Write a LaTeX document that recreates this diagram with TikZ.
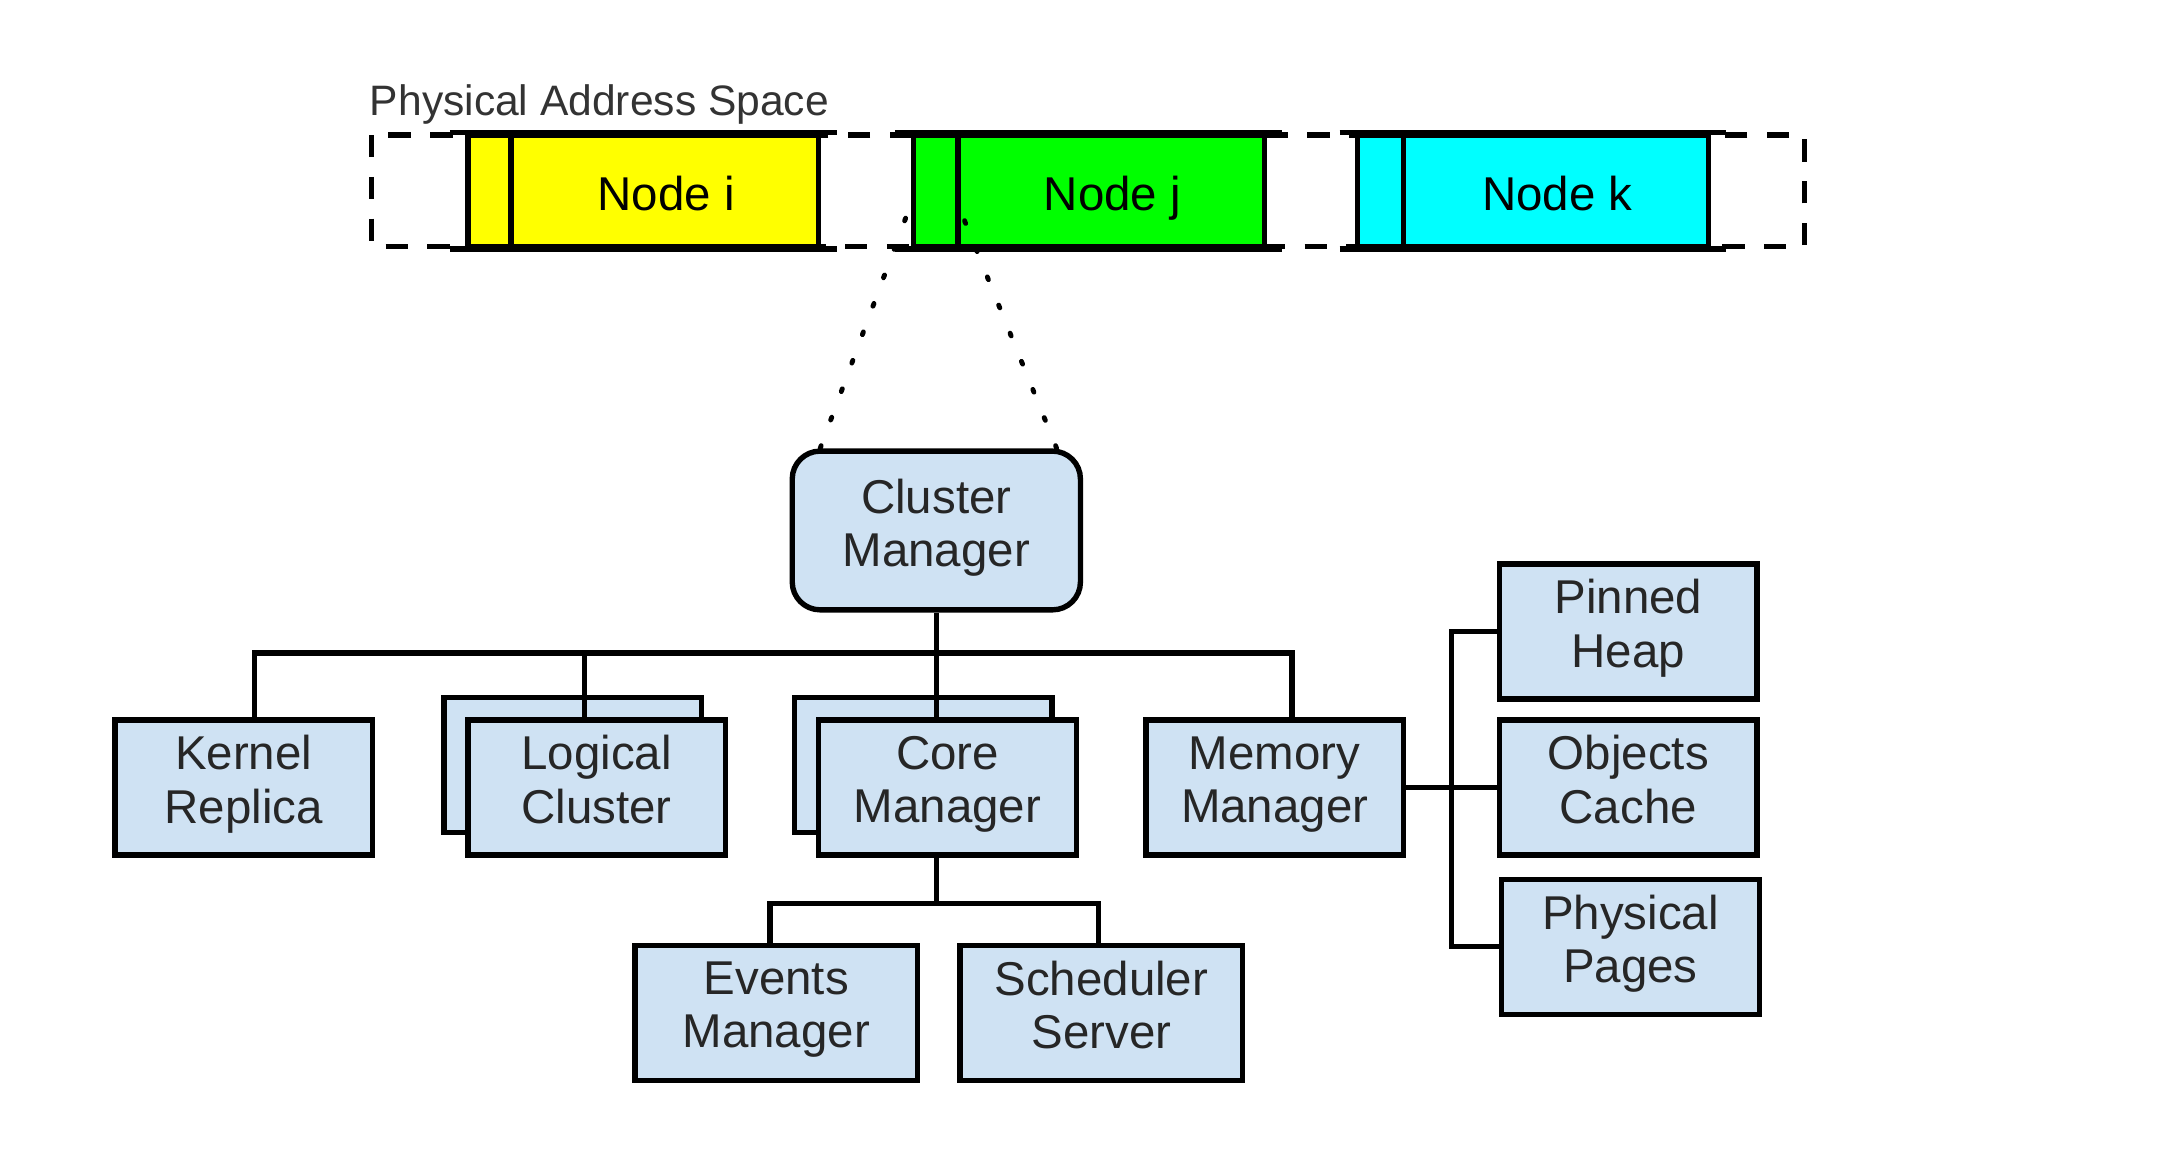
\documentclass[tikz,border=0pt]{standalone}
\usepackage{fontspec}
\setmainfont{Liberation Sans}
\usetikzlibrary{calc}

\definecolor{boxblue}{HTML}{CFE2F3}
\definecolor{slotyellow}{HTML}{FFFF00}
\definecolor{slotgreen}{HTML}{00FF00}
\definecolor{slotcyan}{HTML}{00FFFF}
\tikzset{
  part/.style={draw, line width=1.1pt, fill=boxblue, minimum width=18.5mm, minimum height=9.7mm,
    align=center, inner sep=0pt, text=black!85, font=\fontsize{9.7}{10.9}\selectfont,
    execute at begin node={\rule{0pt}{9.6pt}}, execute at end node=\strut},
  slot/.style={draw, line width=1.1pt, minimum width=25.2mm, minimum height=8mm, inner sep=0pt,
    text height=9pt, text depth=0.9pt, font=\fontsize{9.7}{11}\selectfont},
  wire/.style={line width=1.1pt},
  zoomline/.style={line width=1pt, line cap=round, dash pattern=on 0.6pt off 5.6pt},
}

\begin{document}
\begin{tikzpicture}[x=0.1mm,y=-0.1mm]
  \useasboundingbox (0,0) rectangle (1560,827);

  % address space
  \node[anchor=base west, inner sep=0pt, text=black!80, font=\fontsize{8.7}{10}\selectfont] (pas) at (265,83) {Physical Address Space};
  \draw[line width=1.1pt, dash pattern=on 1.6mm off 1.4mm] (267,97) rectangle (1296,177);

  \node[slot, fill=slotyellow] (ni) at (462,137) {\hspace{3.3mm}Node i};
  \node[slot, fill=slotgreen] (nj) at (782,137) {\hspace{3.4mm}Node j};
  \node[slot, fill=slotcyan] (nk) at (1101,137) {\hspace{3.5mm}Node k};

  \foreach \n/\d in {ni/3.3mm, nj/3.4mm, nk/3.5mm} {
    \draw[wire] ([xshift=\d]\n.north west) -- ([xshift=\d]\n.south west);
    \draw[wire] ([xshift=-1.1mm]\n.north west) -- ([xshift=1.1mm]\n.north east);
    \draw[wire] ([xshift=-1.1mm]\n.south west) -- ([xshift=1.1mm]\n.south east);
  }

  % node j internals
  \node[part, rounded corners=2mm, minimum width=20.7mm, minimum height=11.4mm] (cm) at (672.5,381) {Cluster\\Manager};

  \coordinate (jl) at ($(nj.south west)+(0,-32)$);
  \coordinate (jr) at ($(nj.south west)+(34,-32)$);
  \draw[zoomline] ([xshift=2.2mm]cm.north west) -- (jl);
  \draw[zoomline] ([xshift=-1.9mm]cm.north east) -- (jr);

  \node[part] (kr) at (175,565.5) {Kernel\\Replica};
  \node[part] (lcb) at (411.5,549.5) {};
  \node[part] (lc) at (428.5,565.5) {Logical\\Cluster};
  \node[part] (cmb) at (663,549.5) {};
  \node[part] (core) at (680.5,565.5) {Core\\Manager};
  \node[part] (mem) at (915.5,565.5) {Memory\\Manager};

  \node[part] (ph) at (1169.5,453.5) {Pinned\\Heap};
  \node[part] (oc) at (1169.5,565.5) {Objects\\Cache};
  \node[part] (pp) at (1171,680) {Physical\\Pages};

  \node[part, minimum width=20.3mm] (em) at (557.5,727.5) {Events\\Manager};
  \node[part, minimum width=20.3mm] (ss) at (791,727.5) {Scheduler\\Server};

  % tree
  \coordinate (bus) at ($(cm.south)+(0,29)$);
  \draw[wire] (cm.south) -- (cm.south |- core.north);
  \draw[wire] ([xshift=0.8mm]kr.north) |- (bus) -| ([xshift=1.25mm]mem.north);
  \draw[wire] ([xshift=-0.85mm]lc.north) -- ([xshift=-0.85mm]lc.north |- bus);

  \coordinate (sub) at ($(cm.south |- core.south)+(0,33)$);
  \draw[wire] (cm.south |- core.south) -- (sub);
  \draw[wire] ([xshift=-0.45mm]em.north) |- (sub) -| ([xshift=-0.2mm]ss.north);

  \coordinate (rbus) at ($(mem.east)!0.5!(oc.west)$);
  \draw[wire] (mem.east) -- (oc.west);
  \draw[wire] (ph.west) -| (rbus) |- (pp.west);
\end{tikzpicture}
\end{document}
